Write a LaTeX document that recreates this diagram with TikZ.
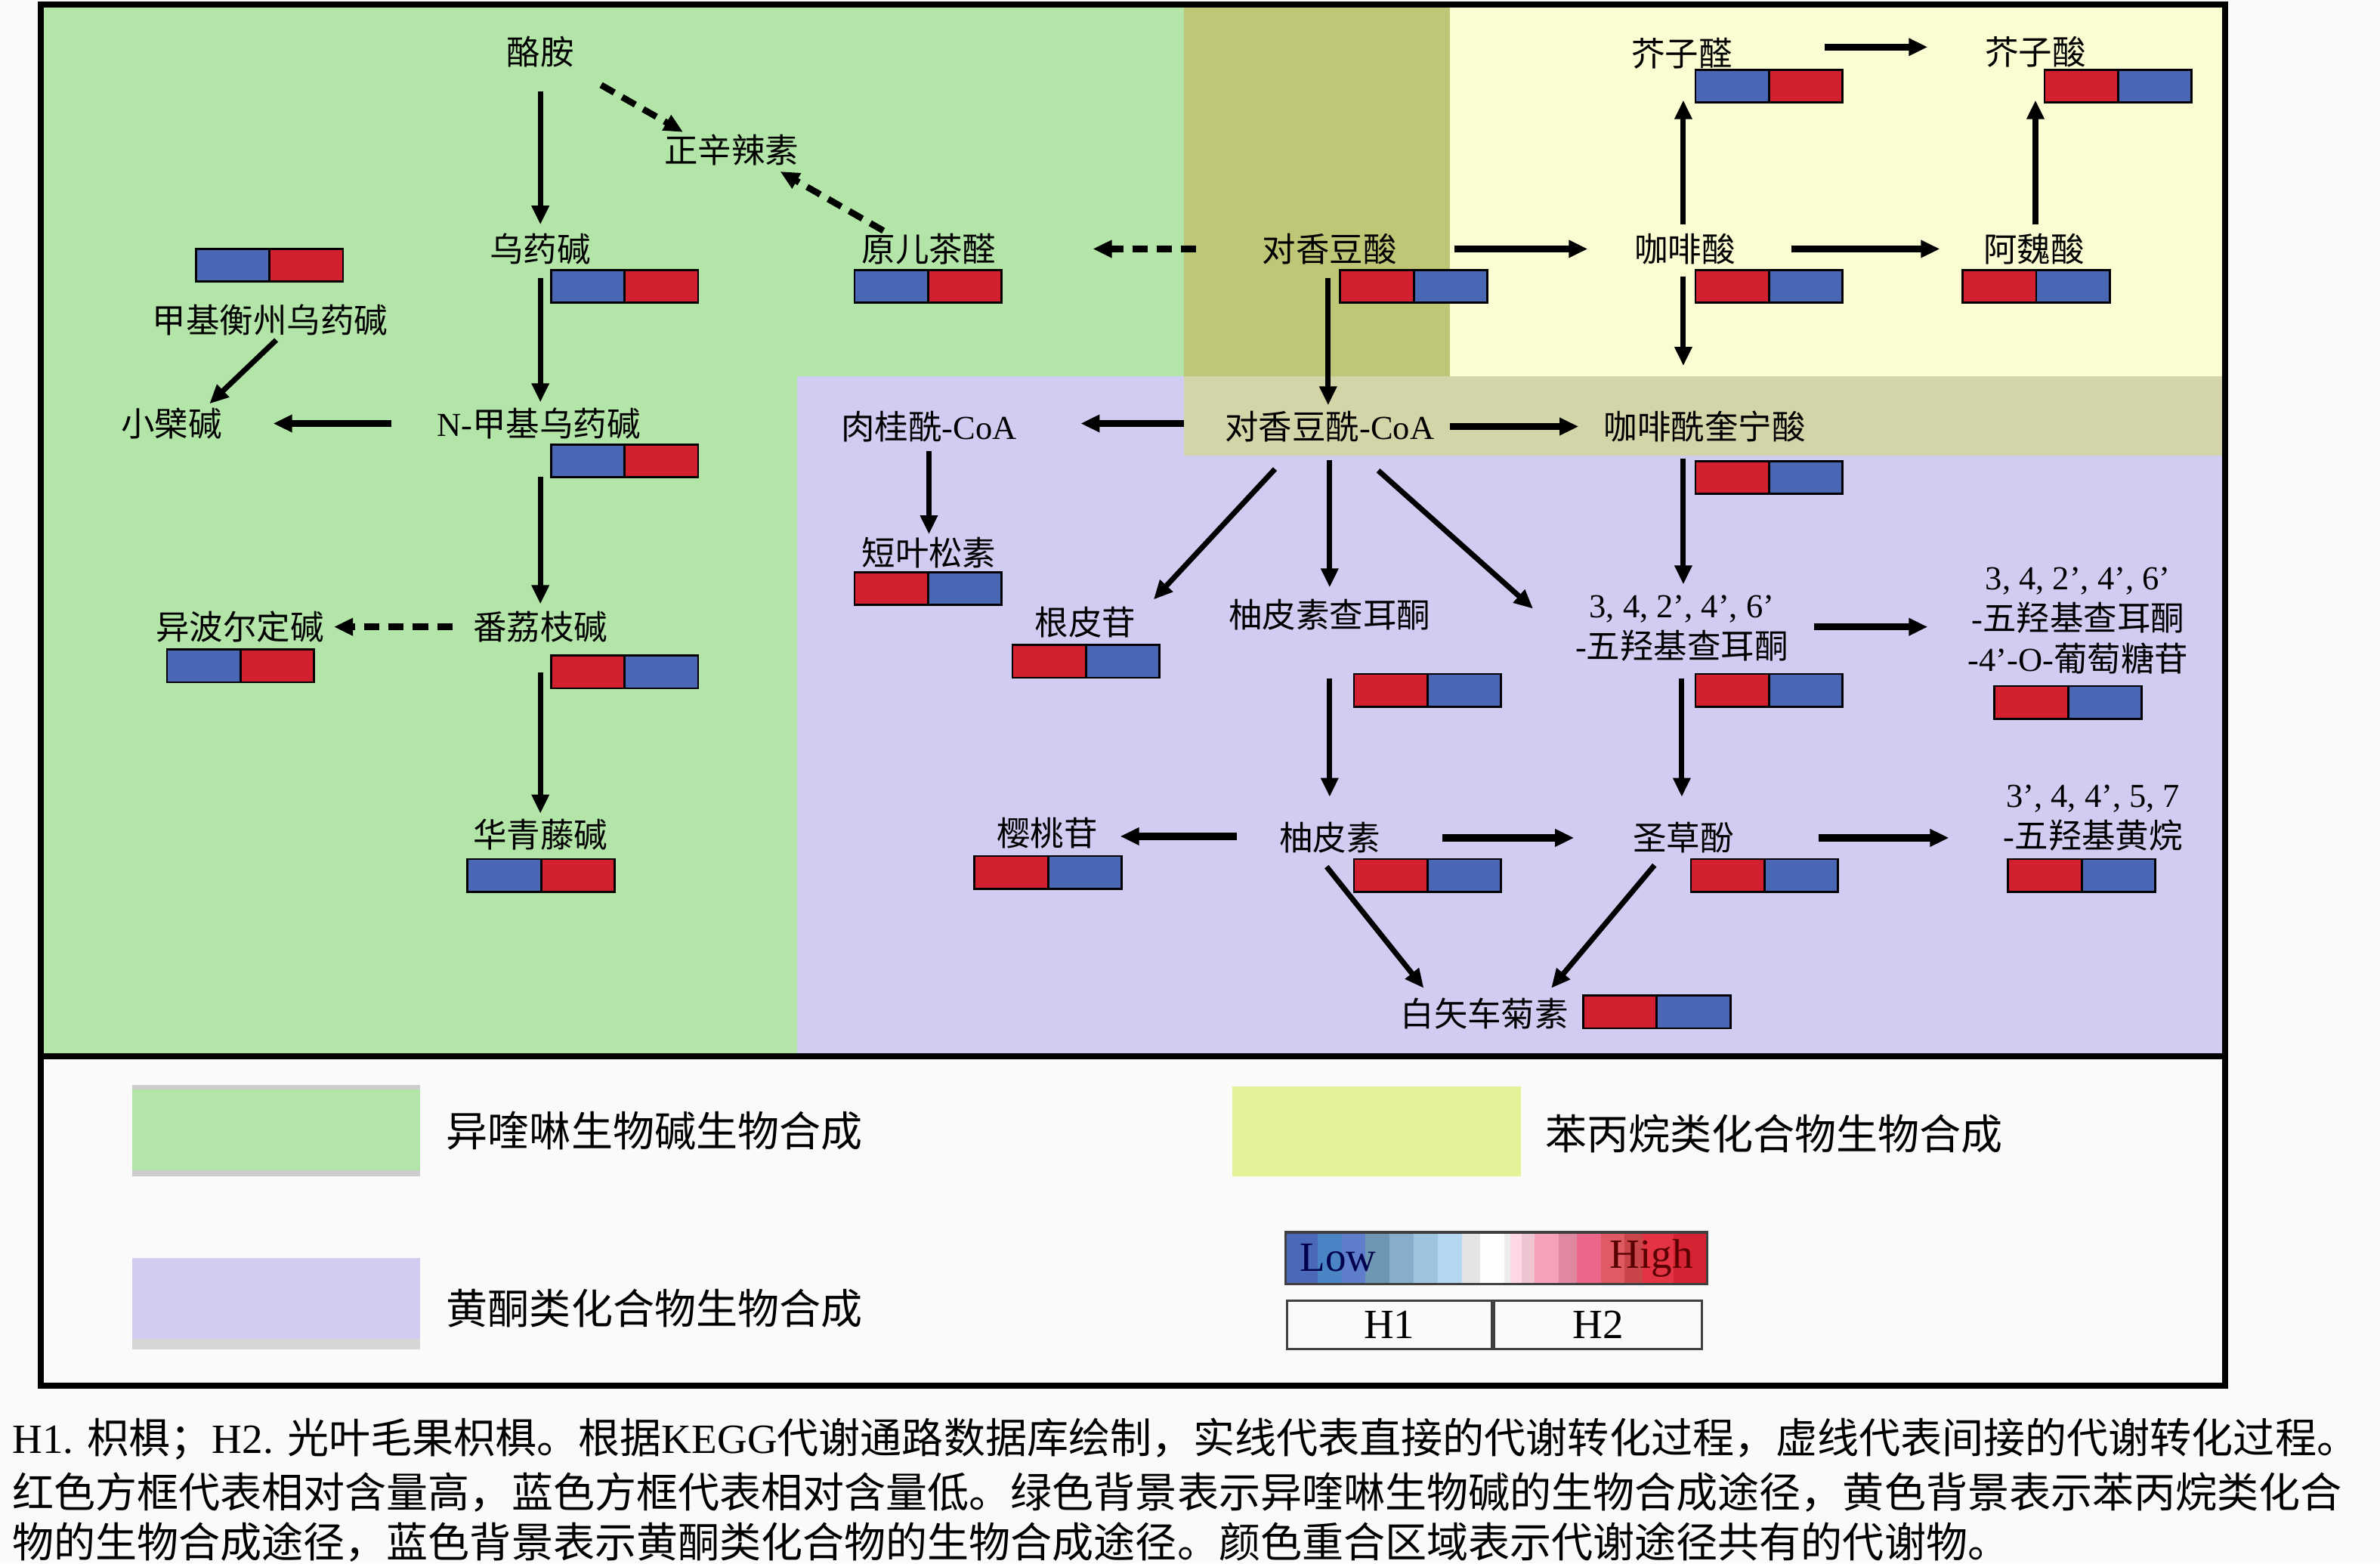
\documentclass[tikz,border=0pt]{standalone}
\usepackage{fontspec}
\setmainfont{Liberation Serif}
\newfontfamily\cjk{Noto Sans CJK SC}
\usetikzlibrary{arrows.meta}
\newcommand\zh[1]{{\cjk #1}}
\definecolor{cB}{HTML}{4A67B5}
\definecolor{cR}{HTML}{D2202F}
\definecolor{gG}{HTML}{B3E5A8}
\definecolor{gP}{HTML}{D0CCF2}
\definecolor{gY}{HTML}{FAFCD2}
\definecolor{gO}{HTML}{BFC777}
\definecolor{gBand}{HTML}{D3D5A9}
\definecolor{lY}{HTML}{E3F398}
\definecolor{pg}{HTML}{FAFAFA}
\tikzset{
  lbl/.style={inner sep=1pt, align=center, font=\fontsize{12.6}{15.4}\selectfont},
  big/.style={inner sep=1pt, anchor=west, font=\fontsize{15.6}{18}\selectfont},
  cell/.style={draw=black, line width=0.8pt, minimum width=0.97cm, minimum height=0.43cm, inner sep=0pt, outer sep=0pt},
  arr/.style={line width=2pt, -{Triangle[length=0.25cm,width=0.22cm]}},
  harr/.style={arr, line width=2.6pt},
  darr/.style={arr, line width=2.4pt, dash pattern=on 0.2cm off 0.12cm},
}
\newcommand\duo[5]{%
  \node[cell, fill=#4, anchor=north west] (#1L) at (#2,#3) {};
  \node[cell, fill=#5, anchor=west] (#1R) at (#1L.east) {};}
\newcommand\link[5][arr]{\draw[#1] ([shift={(#3)}]#2.center) -- ([shift={(#5)}]#4.center);}
\begin{document}
\begin{tikzpicture}[x=0.02cm,y=-0.02cm]
\useasboundingbox (0,0) rectangle (1568,1030);
\fill[pg] (0,0) rectangle (1568,1030);
% backgrounds
\fill[gG] (29,5) rectangle (780,694);
\fill[gO] (780,5) rectangle (955,248);
\fill[gY] (955,5) rectangle (1464,248);
\fill[gP] (525,248) rectangle (1464,694);
\fill[gBand] (780,248) rectangle (1464,300);
\draw[line width=2.3pt] (27,3) rectangle (1466,913);
\draw[line width=2.3pt] (27,696) -- (1466,696);

% labels
\node[lbl] (tyr) at (356,34) {\zh{酪胺}};
\node[lbl] (zxl) at (482,99) {\zh{正辛辣素}};
\node[lbl] (wyj) at (356,164) {\zh{乌药碱}};
\node[lbl] (yec) at (612,164) {\zh{原儿茶醛}};
\node[lbl] (jhz) at (178,211) {\zh{甲基衡州乌药碱}};
\node[lbl] (xbj) at (113,279) {\zh{小檗碱}};
\node[lbl] (nmw) at (355,279) {N-\zh{甲基乌药碱}};
\node[lbl] (ybe) at (158,413) {\zh{异波尔定碱}};
\node[lbl] (fzl) at (356,413) {\zh{番荔枝碱}};
\node[lbl] (hqt) at (356,550) {\zh{华青藤碱}};
\node[lbl] (dxs) at (876,164) {\zh{对香豆酸}};
\node[lbl] (jzq) at (1108,35) {\zh{芥子醛}};
\node[lbl] (jzs) at (1341,34) {\zh{芥子酸}};
\node[lbl] (kfs) at (1110,164) {\zh{咖啡酸}};
\node[lbl] (aws) at (1340,164) {\zh{阿魏酸}};
\node[lbl] (rgx) at (612,281) {\zh{肉桂酰}-CoA};
\node[lbl] (dxx) at (876,281) {\zh{对香豆酰}-CoA};
\node[lbl] (kfq) at (1123,281) {\zh{咖啡酰奎宁酸}};
\node[lbl] (dys) at (612,364) {\zh{短叶松素}};
\node[lbl] (gpg) at (715,410) {\zh{根皮苷}};
\node[lbl] (ypc) at (876,405) {\zh{柚皮素查耳酮}};
\node[lbl] (pqa) at (1108,414) {3, 4, 2’, 4’, 6’\\-\zh{五羟基查耳酮}};
\node[lbl] (glu) at (1369,409) {3, 4, 2’, 4’, 6’\\-\zh{五羟基查耳酮}\\-4’-O-\zh{葡萄糖苷}};
\node[lbl] (ytg) at (690,549) {\zh{樱桃苷}};
\node[lbl] (ypn) at (876,552) {\zh{柚皮素}};
\node[lbl] (szf) at (1109,552) {\zh{圣草酚}};
\node[lbl] (flv) at (1379,539) {3’, 4, 4’, 5, 7\\-\zh{五羟基黄烷}};
\node[lbl] (bsc) at (978,668) {\zh{白矢车菊素}};

% arrows
\link{tyr}{0,26}{wyj}{0,-16}
\link[darr]{tyr}{40,22}{zxl}{-32,-12}
\link[darr]{yec}{-30,-12}{zxl}{32,14}
\link[darr]{dxs}{-88,0}{yec}{108,0}
\link{wyj}{0,19}{nmw}{1,-14}
\link{jhz}{4,13}{xbj}{25,-13}
\link[harr]{nmw}{-97,0}{xbj}{67,0}
\link{nmw}{1,35}{fzl}{0,-15}
\link[darr]{fzl}{-58,0}{ybe}{62,0}
\link{fzl}{0,30}{hqt}{0,-14}
\link[harr]{dxs}{82,0}{kfs}{-64,0}
\link{dxs}{-1,19}{dxx}{-1,-14}
\link{kfs}{-1,-16}{jzq}{1,31}
\link{kfs}{-1,18}{kfq}{-14,-40}
\link[harr]{kfs}{70,0}{aws}{-62,0}
\link{aws}{1,-16}{jzs}{0,32}
\link[harr]{jzq}{94,-4}{jzs}{-71,-3}
\link[harr]{dxx}{-96,-2}{rgx}{100,-2}
\link[harr]{dxx}{79,0}{kfq}{-83,0}
\link{rgx}{0,16}{dys}{0,-12}
\link{dxx}{-36,28}{gpg}{45,-15}
\link{dxx}{0,22}{ypc}{0,-18}
\link{dxx}{32,29}{pqa}{-98,-13}
\link{kfq}{-14,21}{pqa}{1,-29}
\link{ypc}{0,42}{ypn}{0,-27}
\link{pqa}{0,33}{szf}{-1,-27}
\link[harr]{pqa}{87,-1}{glu}{-99,4}
\link[harr]{ypn}{-61,-1}{ytg}{48,2}
\link[harr]{ypn}{74,0}{szf}{-72,0}
\link[harr]{szf}{89,0}{flv}{-95,13}
\link{ypn}{-2,19}{bsc}{-40,-17}
\link{szf}{-19,18}{bsc}{44,-17}

% expression boxes
\duo{bwyj}{363}{178}{cB}{cR}
\duo{byec}{563}{178}{cB}{cR}
\duo{bjhz}{129}{164}{cB}{cR}
\duo{bnmw}{363}{293}{cB}{cR}
\duo{bybe}{110}{428}{cB}{cR}
\duo{bfzl}{363}{432}{cR}{cB}
\duo{bhqt}{308}{566}{cB}{cR}
\duo{bdxs}{883}{178}{cR}{cB}
\duo{bjzq}{1117}{46}{cB}{cR}
\duo{bjzs}{1347}{46}{cR}{cB}
\duo{bkfs}{1117}{178}{cR}{cB}
\duo{baws}{1293}{178}{cR}{cB}
\duo{bkfq}{1117}{304}{cR}{cB}
\duo{bdys}{563}{377}{cR}{cB}
\duo{bgpg}{667}{425}{cR}{cB}
\duo{bypc}{892}{444}{cR}{cB}
\duo{bpqa}{1117}{444}{cR}{cB}
\duo{bglu}{1314}{452}{cR}{cB}
\duo{bytg}{642}{564}{cR}{cB}
\duo{bypn}{892}{566}{cR}{cB}
\duo{bszf}{1114}{566}{cR}{cB}
\duo{bflv}{1323}{566}{cR}{cB}
\duo{bbsc}{1043}{656}{cR}{cB}

% legend
\fill[gG] (87,715) rectangle (277,775);
\fill[black!20] (87,715) rectangle (277,718);
\fill[black!20] (87,771) rectangle (277,775);
\fill[lY] (812,716) rectangle (1002,775);
\fill[gP] (87,829) rectangle (277,889);
\fill[black!16] (87,882) rectangle (277,889);
\node[big] (lg1) at (292,745) {\zh{异喹啉生物碱生物合成}};
\node[big] (lg2) at (1016,747) {\zh{苯丙烷类化合物生物合成}};
\node[big] (lg3) at (292,862) {\zh{黄酮类化合物生物合成}};

% colour bar
\foreach \a/\b/\c in {846/868.2/4B69B8, 868.2/883.8/4A84C4, 883.8/899.3/5E7ECB, 899.3/915.6/6E97B4,
  915.6/931.1/86AECB, 931.1/947.1/9FC4DF, 947.1/963.1/B4D8F2, 963.1/974.9/E4E4E4, 974.9/991.1/FDFDFD,
  991.1/994.9/EDEDED, 994.9/1002.7/FFD8E3, 1002.7/1011.1/EEC4D0, 1011.1/1027.1/F6A0B9, 1027.1/1038.9/E088A0,
  1038.9/1054.9/EC6689, 1054.9/1070.4/DF5A62, 1070.4/1082.2/C84549, 1082.2/1102.7/E43444, 1102.7/1124/D52333}
  {\definecolor{tmpc}{HTML}{\c}\fill[tmpc] (\a,811) rectangle (\b,845);}
\node[draw=black!75, line width=1pt, minimum width=5.56cm, minimum height=0.68cm, inner sep=0pt, anchor=north west] (cbar) at (846,811) {};
\node[inner sep=0pt, font=\fontsize{15.6}{18}\selectfont, text=black!70!blue, anchor=west] (low) at ([xshift=0.2cm]cbar.west) {Low};
\node[inner sep=0pt, font=\fontsize{15.6}{18}\selectfont, text=black!65!red, anchor=east] (high) at ([xshift=-0.2cm]cbar.east) {High};
\node[draw=black!75, line width=0.9pt, minimum width=2.70cm, minimum height=0.64cm, inner sep=0pt, anchor=north west, font=\fontsize{15.6}{18}\selectfont] (th1) at (847,856) {H1};
\node[draw=black!75, line width=0.9pt, minimum width=2.74cm, minimum height=0.64cm, inner sep=0pt, anchor=west, font=\fontsize{15.6}{18}\selectfont] (th2) at (th1.east) {H2};

% caption
\node[big] (cap1) at (6,948) {H1. \zh{枳椇；}H2. \zh{光叶毛果枳椇。根据}KEGG\zh{代谢通路数据库绘制，实线代表直接的代谢转化过程，虚线代表间接的代谢转化过程。}};
\node[big] (cap2) at (6,983) {\zh{红色方框代表相对含量高，蓝色方框代表相对含量低。绿色背景表示异喹啉生物碱的生物合成途径，黄色背景表示苯丙烷类化合}};
\node[big] (cap3) at (6,1016) {\zh{物的生物合成途径，蓝色背景表示黄酮类化合物的生物合成途径。颜色重合区域表示代谢途径共有的代谢物。}};
\end{tikzpicture}
\end{document}
